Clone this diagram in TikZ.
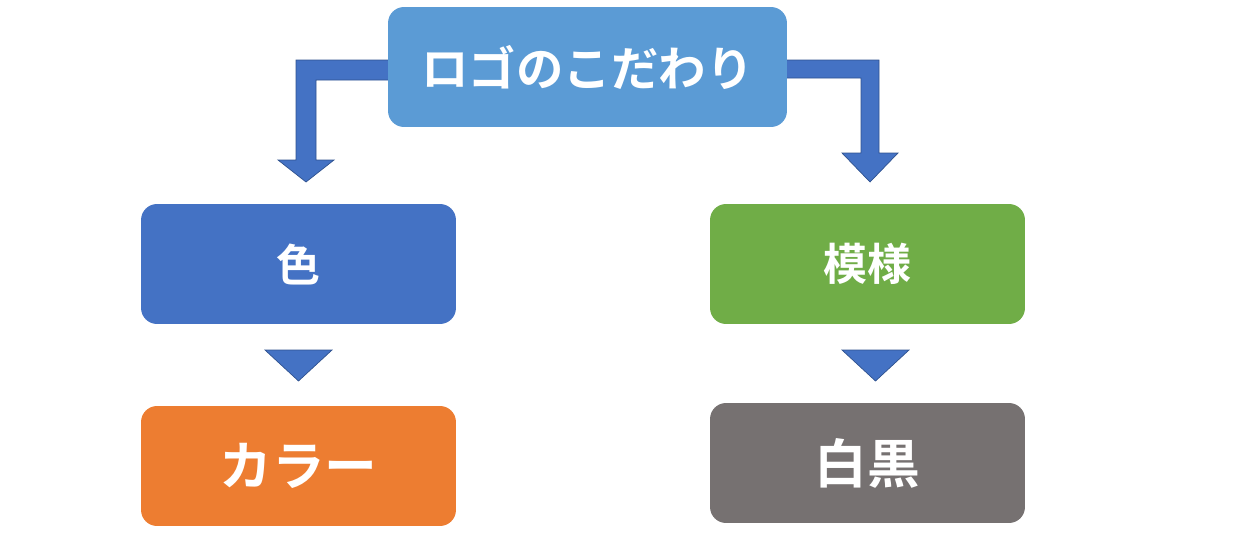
\documentclass[tikz,border=0pt]{standalone}
\usepackage{fontspec}
\newfontfamily\cjk{Noto Sans CJK JP}[BoldFont={* Bold}]
\usetikzlibrary{positioning}
\definecolor{topblue}{HTML}{5B9BD5}
\definecolor{midblue}{HTML}{4472C4}
\definecolor{leafgreen}{HTML}{70AD47}
\definecolor{leaforange}{HTML}{ED7D31}
\definecolor{leafgray}{HTML}{767171}
\definecolor{arrowline}{HTML}{2F528F}
\tikzset{
  box/.style={rounded corners=0.32cm, minimum width=6.3cm, minimum height=2.4cm,
              text=white, font=\cjk\bfseries\fontsize{25}{28}\selectfont, inner sep=0pt},
  bigtext/.style={font=\cjk\bfseries\fontsize{30}{34}\selectfont},
  blockarrow/.style={fill=midblue, draw=arrowline, line width=0.4pt}
}
\begin{document}
\begin{tikzpicture}[x=0.02cm,y=-0.02cm]
\useasboundingbox (0,0) rectangle (1248,534);
% bent arrows from the title
\fill[blockarrow] (400,60) -- (296,60) -- (296,160) -- (278,160)
    -- (306,182) -- (334,160) -- (316,160) -- (316,80) -- (400,80) -- cycle;
\fill[blockarrow] (775,60) -- (879,60) -- (879,153) -- (898,153)
    -- (870,182) -- (842,153) -- (861,153) -- (861,78) -- (775,78) -- cycle;

\node[box, fill=topblue, minimum width=7.98cm,
      font=\cjk\bfseries\fontsize{27}{30}\selectfont] (logo) at (587.5,67) {ロゴのこだわり};
\node[box, fill=midblue] (color) at (298.5,264) {色};
\node[box, fill=leafgreen] (pattern) at (867.5,264) {模様};
\node[box, fill=leaforange, bigtext] (colour) at (298.5,466) {カラー};
\node[box, fill=leafgray, bigtext] (mono) at (867.5,463) {白黒};

% down triangles
\fill[blockarrow] (265,350) -- (332,350) -- (298.5,381) -- cycle;
\fill[blockarrow] (842,350) -- (909,350) -- (875.5,381) -- cycle;
\end{tikzpicture}
\end{document}
